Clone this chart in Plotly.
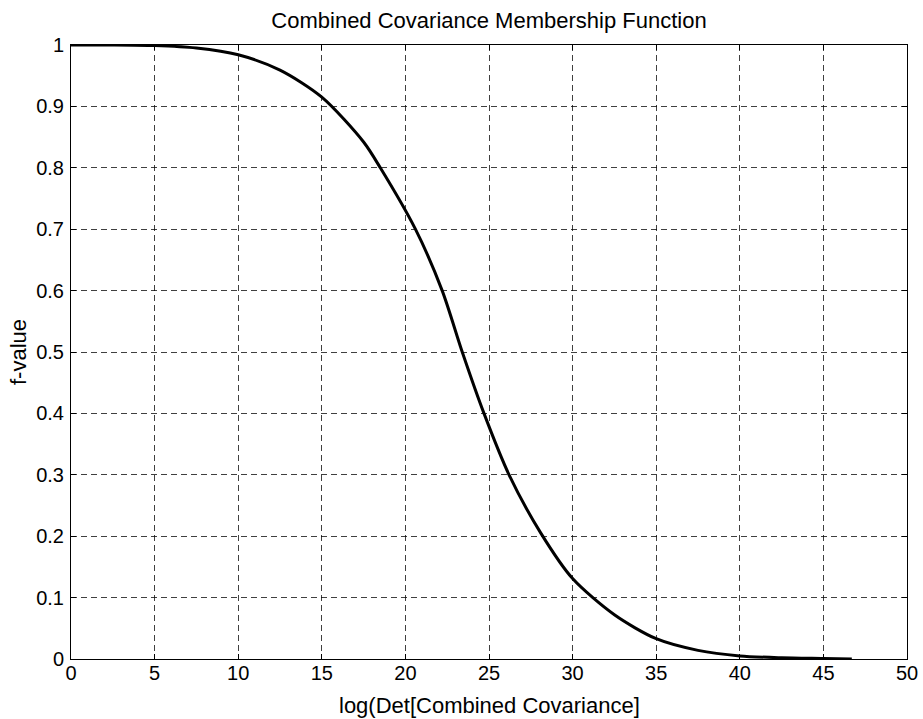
import plotly.graph_objects as go

x_vals = [0, 2.5, 5, 7.5, 10, 12.5, 15, 17.5, 18.5, 20.6, 22.2, 23.4,
          24.7, 26.2, 28.1, 30, 32.5, 35, 37.5, 40, 42.5, 45, 46.7]
f_vals = [1.0, 1.0, 0.999, 0.995, 0.984, 0.959, 0.915, 0.842, 0.8, 0.7,
          0.6, 0.5, 0.4, 0.3, 0.205, 0.131, 0.072, 0.033, 0.014, 0.005, 0.002,
          0.0008, 0.0]

x_ticks = list(range(0, 51, 5))
y_ticks = [0, 0.1, 0.2, 0.3, 0.4, 0.5, 0.6, 0.7, 0.8, 0.9, 1]
y_tick_text = ["0", "0.1", "0.2", "0.3", "0.4", "0.5", "0.6", "0.7", "0.8", "0.9", "1"]

FONT = "Liberation Sans, Arial, sans-serif"
FS = 20
FS_LABEL = 22

W, H = 923, 719
ML, MR, MT, MB = 71, 16, 45, 60
PW, PH = W - ML - MR, H - MT - MB

fig = go.Figure()
fig.add_trace(go.Scatter(
    x=x_vals, y=f_vals, mode="lines",
    line=dict(color="black", width=3, shape="spline", smoothing=0.8),
    showlegend=False, hoverinfo="skip"))

axis_common = dict(
    showline=True, linecolor="black", linewidth=1, mirror="ticks",
    ticks="inside", ticklen=5, tickcolor="black", tickwidth=1,
    showgrid=True, gridcolor="rgba(0,0,0,0.75)", gridwidth=1, griddash="6px,4px",
    zeroline=False, automargin=False,
    tickfont=dict(family=FONT, size=FS, color="black"),
)

fig.update_layout(
    width=W, height=H,
    margin=dict(l=ML, r=MR, t=MT, b=MB),
    paper_bgcolor="white", plot_bgcolor="white",
    title=dict(text="Combined Covariance Membership Function",
               font=dict(family=FONT, size=FS_LABEL, color="black"),
               x=0.5, xanchor="center", xref="paper", y=1 - 20 / H, yanchor="middle"),
    xaxis=dict(range=[0, 50], tickvals=x_ticks, ticklabelstandoff=-4, **axis_common),
    yaxis=dict(range=[0, 1], tickvals=y_ticks, ticktext=y_tick_text,
               ticklabelstandoff=2, **axis_common),
    annotations=[
        dict(text="log(Det[Combined Covariance]", xref="paper", yref="paper",
             x=0.5, y=-(705 - (H - MB)) / PH, xanchor="center", yanchor="middle",
             showarrow=False, font=dict(family=FONT, size=FS_LABEL, color="black")),
        dict(text="f-value", xref="paper", yref="paper",
             x=-(ML - 18) / PW, y=0.5, xanchor="center", yanchor="middle",
             textangle=-90, showarrow=False,
             font=dict(family=FONT, size=FS_LABEL, color="black")),
    ],
)

fig.write_html("out.html",
               config={"displayModeBar": False},
               post_script="document.body.style.margin='0';document.body.style.overflow='hidden';")
